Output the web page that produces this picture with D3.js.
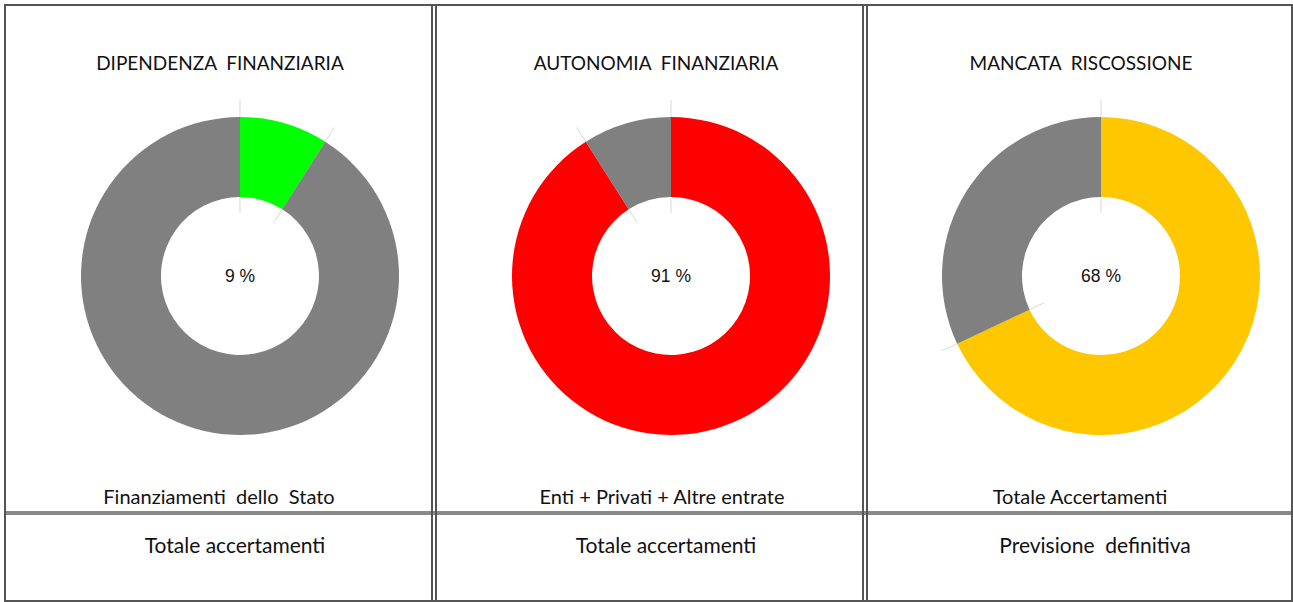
<!DOCTYPE html>
<html>
<head>
<meta charset="utf-8">
<script src="https://cdn.jsdelivr.net/npm/d3@7"></script>
<style>
  body { margin: 0; background: #fff; }
  text { white-space: pre; }
</style>
</head>
<body>
<svg width="1293" height="602"></svg>
<script>
// chart data
var titles = ["DIPENDENZA  FINANZIARIA", "AUTONOMIA  FINANZIARIA", "MANCATA  RISCOSSIONE"];
var shares = [9, 91, 68];
var colors = ["#00ff00", "#ff0000", "#ffc700"];
var numeratorLabels = ["Finanziamenti  dello  Stato", "Enti + Privati + Altre entrate", "Totale Accertamenti"];
var denominatorLabels = ["Totale accertamenti", "Totale accertamenti", "Previsione  definitiva"];

var svg = d3.select("svg");

// panel layout
var panels = [
  { cx: 240, tx: 220, nx: 219, dx: 235 },
  { cx: 671, tx: 656, nx: 662, dx: 666 },
  { cx: 1101, tx: 1081, nx: 1080, dx: 1095 }
];
var cy = 276, rIn = 79, rOut = 159;

var pie = d3.pie().sort(null).value(function(d) { return d; });
var arc = d3.arc().innerRadius(rIn).outerRadius(rOut);

var labelFont = "Lato, 'Open Sans', sans-serif";

panels.forEach(function(p, i) {
  var g = svg.append("g").attr("transform", "translate(" + p.cx + "," + cy + ")");
  var slices = pie([shares[i], 100 - shares[i]]);

  // leader lines along slice boundaries
  var bounds = [0, slices[0].endAngle];
  bounds.forEach(function(a) {
    g.append("line")
      .attr("x1", Math.sin(a) * 63).attr("y1", -Math.cos(a) * 63)
      .attr("x2", Math.sin(a) * 176).attr("y2", -Math.cos(a) * 176)
      .attr("stroke", "#d8d8d8").attr("stroke-width", 1);
  });

  g.selectAll("path")
    .data(slices)
    .enter().append("path")
    .attr("d", arc)
    .attr("fill", function(d, j) { return j === 0 ? colors[i] : "#808080"; });

  g.append("text")
    .attr("text-anchor", "middle")
    .attr("y", 6)
    .attr("font-family", "'Liberation Sans', Arial, sans-serif")
    .attr("font-size", "17.5px")
    .attr("fill", "#111")
    .text(shares[i] + " %");

  svg.append("text")
    .attr("x", p.tx).attr("y", 70)
    .attr("text-anchor", "middle")
    .attr("font-family", labelFont)
    .attr("font-size", "19px")
    .attr("fill", "#111")
    .text(titles[i]);

  svg.append("text")
    .attr("x", p.nx).attr("y", 504)
    .attr("text-anchor", "middle")
    .attr("font-family", labelFont)
    .attr("font-size", "20px")
    .attr("fill", "#111")
    .text(numeratorLabels[i]);

  svg.append("text")
    .attr("x", p.dx).attr("y", 553)
    .attr("text-anchor", "middle")
    .attr("font-family", labelFont)
    .attr("font-size", "21px")
    .attr("fill", "#111")
    .text(denominatorLabels[i]);
});

// table borders
svg.append("line")
  .attr("x1", 5).attr("x2", 1292).attr("y1", 513).attr("y2", 513)
  .attr("stroke", "#888").attr("stroke-width", 4);

[432, 436, 863, 867].forEach(function(x) {
  svg.append("line")
    .attr("x1", x).attr("x2", x).attr("y1", 5).attr("y2", 602)
    .attr("stroke", "#555").attr("stroke-width", 2);
});

svg.append("rect")
  .attr("x", 5).attr("y", 5).attr("width", 1287).attr("height", 596)
  .attr("fill", "none").attr("stroke", "#555").attr("stroke-width", 2);
</script>
</body>
</html>
